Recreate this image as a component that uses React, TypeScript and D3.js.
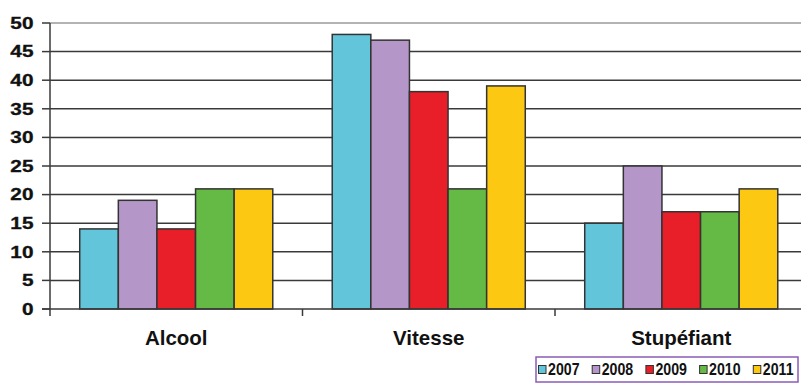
import React from "react";
import * as d3 from "d3";

const categories = ["Alcool", "Vitesse", "Stupéfiant"];
const years = ["2007", "2008", "2009", "2010", "2011"];
const values2007 = [14, 48, 15];
const values2008 = [19, 47, 25];
const values2009 = [14, 38, 17];
const values2010 = [21, 21, 17];
const values2011 = [21, 39, 21];
const yTicks = [0, 5, 10, 15, 20, 25, 30, 35, 40, 45, 50];
const colors = ["#62c5da", "#b596c9", "#e81f28", "#65ba45", "#fcc812"];

const seriesValues = [values2007, values2008, values2009, values2010, values2011];

const W = 801;
const H = 383;
const left = 50;
const bottom = 309;
const top = 23;
const FONT = "'Liberation Sans', Arial, sans-serif";

export default function App() {
  const x0 = d3.scaleBand<string>().domain(categories).range([left, left + 3 * 252.5]).padding(0);
  const x1 = d3
    .scaleBand<string>()
    .domain(years)
    .range([0, x0.bandwidth()])
    .paddingInner(0)
    .paddingOuter(0.77);
  const y = d3.scaleLinear().domain([0, 50]).range([bottom, top]);

  const legendX = 536;
  const legendY = 357;
  const itemStep = 53.7;

  return (
    <svg
      width={W}
      height={H}
      style={{ position: "absolute", left: 0, top: 0, background: "#fff" }}
      fontFamily={FONT}
    >
      <rect x={0} y={0} width={W} height={H} fill="#fff" />
      {/* horizontal gridlines */}
      {yTicks
        .filter((t) => t > 0)
        .map((t) => (
          <line
            key={"g" + t}
            x1={left}
            x2={W}
            y1={y(t)}
            y2={y(t)}
            stroke={t === 50 ? "#9a9a9a" : "#3a3a3a"}
            strokeWidth={1.5}
          />
        ))}
      {/* y ticks and labels */}
      {yTicks.map((t) => (
        <g key={"t" + t}>
          <line x1={42} x2={left} y1={y(t)} y2={y(t)} stroke="#3a3a3a" strokeWidth={1.5} />
          <text
            transform={`translate(33.5,${y(t) + 5.8}) scale(1.3,1)`}
            textAnchor="end"
            fontSize={16}
            fontWeight="bold"
            fill="#111"
            stroke="#111"
            strokeWidth={0.3}
          >
            {t}
          </text>
        </g>
      ))}
      {/* bars */}
      {categories.map((c, ci) => (
        <g key={c} transform={`translate(${x0(c)},0)`}>
          {years.map((yr, si) => {
            const v = seriesValues[si][ci];
            return (
              <rect
                key={yr}
                x={x1(yr)}
                y={y(v)}
                width={x1.bandwidth()}
                height={bottom - y(v)}
                fill={colors[si]}
                stroke="#333"
                strokeWidth={1.5}
              />
            );
          })}
        </g>
      ))}
      {/* axes */}
      <line x1={left} x2={left} y1={top} y2={316} stroke="#3a3a3a" strokeWidth={1.5} />
      <line x1={42} x2={W} y1={bottom} y2={bottom} stroke="#3a3a3a" strokeWidth={1.5} />
      {categories.slice(1).map((c) => (
        <line
          key={"xt" + c}
          x1={x0(c)}
          x2={x0(c)}
          y1={bottom}
          y2={316}
          stroke="#3a3a3a"
          strokeWidth={1.5}
        />
      ))}
      {/* category labels */}
      {categories.map((c) => (
        <text
          key={"l" + c}
          x={(x0(c) as number) + x0.bandwidth() / 2}
          y={344.5}
          textAnchor="middle"
          fontSize={20.5}
          fontWeight="bold"
          fill="#111"
        >
          {c}
        </text>
      ))}
      {/* legend */}
      <rect
        x={legendX}
        y={legendY}
        width={262}
        height={25}
        fill="#fff"
        stroke="#8a5cb6"
        strokeWidth={1.5}
      />
      {years.map((yr, i) => (
        <g key={"lg" + yr} transform={`translate(${legendX + 2.5 + i * itemStep},${legendY})`}>
          <rect x={0} y={8.5} width={7.5} height={8} fill={colors[i]} stroke="#333" strokeWidth={1} />
          <text
            transform="translate(9.5,17.5) scale(0.86,1)"
            fontSize={16.5}
            fontWeight="bold"
            fill="#111"
          >
            {yr}
          </text>
        </g>
      ))}
    </svg>
  );
}
